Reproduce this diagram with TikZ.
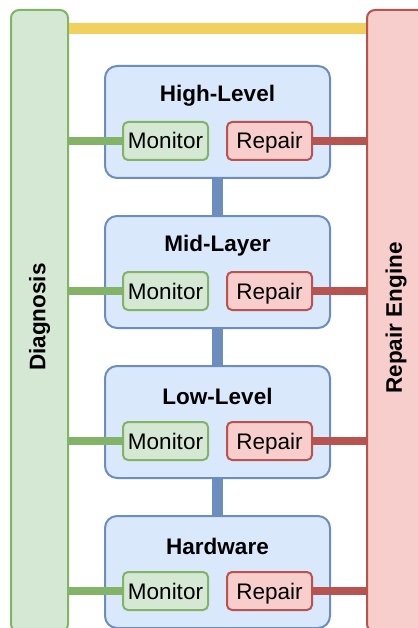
\documentclass[tikz,border=0pt]{standalone}
\usepackage{fontspec}
\setmainfont{Liberation Sans}
\usetikzlibrary{positioning}
\definecolor{greenfill}{HTML}{D5E8D4}
\definecolor{greenline}{HTML}{82B366}
\definecolor{bluefill}{HTML}{DAE8FC}
\definecolor{blueline}{HTML}{6C8EBF}
\definecolor{redfill}{HTML}{F8CECC}
\definecolor{redline}{HTML}{B85450}
\definecolor{yellowline}{HTML}{F2D05E}
\tikzstyle{bar}=[line width=2pt, rounded corners=8pt, minimum width=57pt, minimum height=622pt]
\tikzstyle{bar text}=[rotate=90, font=\fontsize{22.5}{27}\selectfont\bfseries]
\tikzstyle{layer}=[draw=blueline, fill=bluefill, line width=2pt, rounded corners=12pt, minimum width=225pt, minimum height=112pt]
\tikzstyle{layer title}=[font=\fontsize{22.5}{27}\selectfont\bfseries]
\tikzstyle{small box}=[line width=2pt, rounded corners=5pt, minimum width=85pt, minimum height=38pt, inner sep=0pt, text height=16pt, text depth=0pt, font=\fontsize{22.5}{27}\selectfont]
\tikzstyle{monitor}=[small box, draw=greenline, fill=greenfill]
\tikzstyle{repair}=[small box, draw=redline, fill=redfill]
\tikzstyle{green link}=[greenline, line width=8pt]
\tikzstyle{red link}=[redline, line width=8pt]
\tikzstyle{blue link}=[blueline, line width=11pt]
\tikzstyle{yellow link}=[yellowline, line width=10.5pt]

\begin{document}
\begin{tikzpicture}[x=1pt, y=-1pt]
      \useasboundingbox (0, 0) rectangle (417, 628);
      % side bars
      \node[bar, draw=greenline, fill=greenfill] (diag) at (39.5, 321) {};
      \node[bar text] (diagtext) at (39.5, 317) {Diagnosis};
      \node[bar, draw=redline, fill=redfill, minimum width=58pt] (engine) at (396, 321) {};
      \node[bar text] (enginetext) at (396, 318) {Repair Engine};
      \coordinate (top) at (0, 28.5);
      \draw[yellow link] (diag.east |- top) -- (engine.west |- top);
      % layers
      \node[layer] (high) at (217.5, 122) {};
      \node[layer] (mid) at (217.5, 272) {};
      \node[layer] (low) at (217.5, 422) {};
      \node[layer] (hw) at (217.5, 572) {};
      \draw[blue link] (high.south) -- (mid.north);
      \draw[blue link] (mid.south) -- (low.north);
      \draw[blue link] (low.south) -- (hw.north);
      \node[layer title] (hightitle) at (217.5, 96) {High-Level};
      \node[layer title] (midtitle) at (217.5, 246) {Mid-Layer};
      \node[layer title] (lowtitle) at (217.5, 396) {Low-Level};
      \node[layer title] (hwtitle) at (217.5, 546) {Hardware};
      % monitor and repair boxes
      \node[monitor] (highmon) at (165.5, 141) {Monitor};
      \node[repair] (highrep) at (269.5, 141) {Repair};
      \node[monitor] (midmon) at (165.5, 291) {Monitor};
      \node[repair] (midrep) at (269.5, 291) {Repair};
      \node[monitor] (lowmon) at (165.5, 441) {Monitor};
      \node[repair] (lowrep) at (269.5, 441) {Repair};
      \node[monitor] (hwmon) at (165.5, 591) {Monitor};
      \node[repair] (hwrep) at (269.5, 591) {Repair};
      % links to the side bars
      \draw[green link] (diag.east |- highmon) -- (highmon.west);
      \draw[green link] (diag.east |- midmon) -- (midmon.west);
      \draw[green link] (diag.east |- lowmon) -- (lowmon.west);
      \draw[green link] (diag.east |- hwmon) -- (hwmon.west);
      \draw[red link] (highrep.east) -- (engine.west |- highrep);
      \draw[red link] (midrep.east) -- (engine.west |- midrep);
      \draw[red link] (lowrep.east) -- (engine.west |- lowrep);
      \draw[red link] (hwrep.east) -- (engine.west |- hwrep);
    \end{tikzpicture}
\end{document}
